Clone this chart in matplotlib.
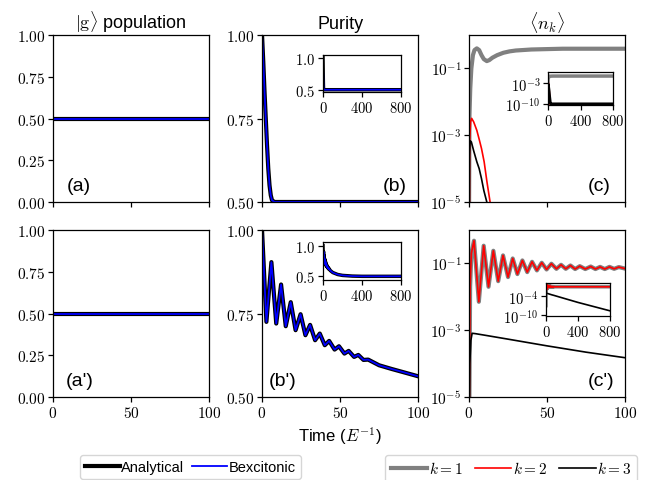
import numpy as np
import matplotlib
matplotlib.use("Agg")
import matplotlib.pyplot as plt
from matplotlib.ticker import FuncFormatter, NullLocator

plt.rcParams['font.family'] = ['Liberation Sans', 'DejaVu Sans']
plt.rcParams['mathtext.fontset'] = 'cm'

# ---- data ----
# |g> population (both rows)
t_pop = [0, 25, 50, 75, 100]
pop_g = [0.5, 0.5, 0.5, 0.5, 0.5]

# purity, top row
t_pur = [0, 0.8, 1.6, 2.4, 3.2, 4.0, 4.8, 5.6, 6.4, 8, 10, 100]
pur = [1.0, 0.92, 0.83, 0.75, 0.67, 0.60, 0.55, 0.52, 0.505, 0.5, 0.5, 0.5]
t_pur_tail = [200, 400, 600, 800]
pur_tail = [0.5, 0.5, 0.5, 0.5]

# purity, bottom row (peaks and troughs)
t_pur2 = [0, 2.8, 6.0, 9.1, 12.2, 15.2, 18.4, 21.5, 24.7, 27.8, 30.8, 34.0, 37.0,
          40.2, 43.0, 46.5, 49.3, 52.8, 55.5, 59.0, 61.7, 65.0, 68.0, 75, 83, 90, 100]
pur2 = [1.0, 0.725, 0.904, 0.72, 0.837, 0.712, 0.784, 0.70, 0.748, 0.685, 0.716, 0.67, 0.69,
        0.655, 0.668, 0.642, 0.652, 0.63, 0.638, 0.62, 0.626, 0.611, 0.612, 0.595, 0.584, 0.575, 0.562]
t_pur2_tail = [150, 200, 300, 400, 600, 800]
pur2_tail = [0.53, 0.515, 0.504, 0.5, 0.5, 0.5]

# <n_k>, top row
t_n1 = [0, 0.3, 0.8, 1.5, 2.5, 3.5, 5, 6.5, 8, 9.5, 11.4, 13, 15, 18, 22, 26, 30, 40, 50, 60, 80, 100]
n1 = [3e-6, 4e-3, 2.5e-2, 0.1, 0.25, 0.355, 0.40, 0.355, 0.25, 0.19, 0.166, 0.178, 0.21,
      0.25, 0.295, 0.325, 0.345, 0.37, 0.38, 0.39, 0.39, 0.39]
t_n2 = [0, 0.4, 1.0, 1.7, 3, 5, 6.5, 8, 9.7, 11.5, 13.5, 15, 20, 25, 35]
n2 = [1e-8, 6.3e-4, 2.5e-3, 3.2e-3, 2.5e-3, 1.4e-3, 7.6e-4, 4e-4, 1.6e-4, 4e-5, 1e-5, 3.2e-6,
      3e-8, 1e-10, 1e-14]
t_n3 = [0, 0.3, 0.7, 1.5, 3, 5, 6.5, 8, 9.5, 11.4, 15, 20, 30, 40]
n3 = [1e-8, 2.5e-4, 6.8e-4, 6.3e-4, 3.4e-4, 1.6e-4, 1e-4, 5e-5, 2.2e-5, 1e-5, 1e-6, 3e-8, 1e-10, 8e-11]
t_tail = [200, 400, 600, 800]
n1_tail = [0.39, 0.39, 0.39, 0.39]
n3_tail = [8e-11, 8e-11, 8e-11, 8e-11]

# <n_k>, bottom row (k=1 and k=2 coincide)
t_n12b = [0, 0.7, 1.5, 3.2, 6.3, 9.4, 12.5, 15.6, 18.7, 21.8, 25, 28, 31, 34.2, 37.3,
          40.4, 43.5, 46.6, 49.7, 52.8, 56, 59, 62, 65, 68, 71, 74.5, 78, 81, 84, 87,
          90, 93, 96, 100]
n12b = [1e-7, 0.02, 0.2, 0.48, 0.0071, 0.34, 0.02, 0.24, 0.0295, 0.174, 0.039, 0.141, 0.048,
        0.123, 0.055, 0.112, 0.062, 0.105, 0.066, 0.098, 0.069, 0.091, 0.069, 0.087, 0.068,
        0.083, 0.068, 0.081, 0.068, 0.079, 0.068, 0.079, 0.069, 0.078, 0.07]
t_n3b = [0, 0.5, 1.2, 2, 4, 10, 25, 50, 75, 100]
n3b = [1e-7, 1e-4, 5e-4, 8.1e-4, 7.9e-4, 7.1e-4, 5.4e-4, 3.4e-4, 2.2e-4, 1.5e-4]
n12b_tail = [0.07, 0.07, 0.07, 0.07]
n3b_tail = [2.8e-5, 1e-6, 5e-8, 2.5e-9]

# ---- figure ----
fig = plt.figure(figsize=(6.47, 4.81), dpi=100)

cols = [0.0819, 0.405, 0.7249]
rows = [0.578, 0.1726]
w, h = 0.2412, 0.347

lin_fmt2 = FuncFormatter(lambda v, p: r'$%.2f$' % v)
lin_fmt1 = FuncFormatter(lambda v, p: r'$%.1f$' % v)
int_fmt = FuncFormatter(lambda v, p: r'$%d$' % v)
log_fmt = FuncFormatter(lambda v, p: r'$10^{%d}$' % round(np.log10(v)))


def style(ax, fs=11):
    ax.tick_params(direction='out', length=3.5, width=0.9, labelsize=fs, pad=2)
    for s in ax.spines.values():
        s.set_linewidth(0.9)


axes = [[fig.add_axes([cols[c], rows[r], w, h]) for c in range(3)] for r in range(2)]

for r in range(2):
    ax_a, ax_b, ax_c = axes[r]
    # population
    ax_a.plot(t_pop, pop_g, color='black', lw=3)
    ax_a.plot(t_pop, pop_g, color='blue', lw=1.3)
    ax_a.set_ylim(0, 1)
    ax_a.set_yticks([0, 0.25, 0.5, 0.75, 1.0])
    ax_a.yaxis.set_major_formatter(lin_fmt2)

    # purity
    tp, pp = (t_pur, pur) if r == 0 else (t_pur2, pur2)
    ax_b.plot(tp, pp, color='black', lw=3)
    ax_b.plot(tp, pp, color='blue', lw=1.3)
    ax_b.set_ylim(0.5, 1)
    ax_b.set_yticks([0.5, 0.75, 1.0])
    ax_b.yaxis.set_major_formatter(lin_fmt2)

    ax_c.set_yscale('log')
    ax_c.set_ylim(1e-5, 1)
    ax_c.set_yticks([1e-5, 1e-3, 1e-1])
    ax_c.yaxis.set_minor_locator(NullLocator())
    ax_c.yaxis.set_major_formatter(log_fmt)

    for ax in axes[r]:
        ax.set_xlim(0, 100)
        ax.set_xticks([0, 50, 100])
        ax.xaxis.set_major_formatter(int_fmt)
        style(ax)
        if r == 0:
            ax.tick_params(labelbottom=False)

# <n_k> top
ax = axes[0][2]
ax.plot(t_n1, n1, color='gray', lw=3)
ax.plot(t_n2, n2, color='red', lw=1.2)
ax.plot(t_n3, n3, color='black', lw=1.2)
# <n_k> bottom
ax = axes[1][2]
ax.plot(t_n12b, n12b, color='gray', lw=3)
ax.plot(t_n12b, n12b, color='red', lw=1.2)
ax.plot(t_n3b, n3b, color='black', lw=1.2)

# titles
axes[0][0].set_title(r'$|\mathrm{g}\rangle$ population', fontsize=13, pad=5)
axes[0][1].set_title('Purity', fontsize=13, pad=5)
axes[0][2].set_title(r'$\langle n_k\rangle$', fontsize=13, pad=5)
axes[1][1].set_xlabel(r'Time ($E^{-1}$)', fontsize=12, labelpad=3)

# panel labels
lab_kw = dict(fontsize=14)
axes[0][0].text(0.09, 0.05, '(a)', transform=axes[0][0].transAxes, ha='left', va='bottom', **lab_kw)
axes[0][1].text(0.93, 0.05, '(b)', transform=axes[0][1].transAxes, ha='right', va='bottom', **lab_kw)
axes[0][2].text(0.91, 0.05, '(c)', transform=axes[0][2].transAxes, ha='right', va='bottom', **lab_kw)
axes[1][0].text(0.08, 0.05, "(a')", transform=axes[1][0].transAxes, ha='left', va='bottom', **lab_kw)
axes[1][1].text(0.04, 0.05, "(b')", transform=axes[1][1].transAxes, ha='left', va='bottom', **lab_kw)
axes[1][2].text(0.93, 0.05, "(c')", transform=axes[1][2].transAxes, ha='right', va='bottom', **lab_kw)

# insets
ins_b = fig.add_axes([0.4992, 0.8067, 0.1206, 0.0769])
ins_b.plot(t_pur + t_pur_tail, pur + pur_tail, color='black', lw=2.5)
ins_b.plot(t_pur + t_pur_tail, pur + pur_tail, color='blue', lw=1.2)
ins_b.set_ylim(0.465, 1.04)
ins_b.set_yticks([0.5, 1.0])
ins_b.yaxis.set_major_formatter(lin_fmt1)

ins_b2 = fig.add_axes([0.4992, 0.4158, 0.1206, 0.079])
ins_b2.plot(t_pur2 + t_pur2_tail, pur2 + pur2_tail, color='black', lw=2.5)
ins_b2.plot(t_pur2 + t_pur2_tail, pur2 + pur2_tail, color='blue', lw=1.2)
ins_b2.set_ylim(0.44, 1.06)
ins_b2.set_yticks([0.5, 1.0])
ins_b2.yaxis.set_major_formatter(lin_fmt1)

ins_c = fig.add_axes([0.847, 0.7796, 0.1005, 0.0686])
ins_c.plot(t_n1 + t_tail, n1 + n1_tail, color='gray', lw=2.5)
ins_c.plot(t_n2, n2, color='red', lw=1.2)
ins_c.plot(t_n3 + t_tail, n3 + n3_tail, color='black', lw=2)
ins_c.set_yscale('log')
ins_c.set_ylim(10 ** -10.5, 10 ** 1.0)
ins_c.set_yticks([1e-10, 1e-3])

ins_c2 = fig.add_axes([0.8439, 0.341, 0.0989, 0.0686])
ins_c2.plot(t_n12b + t_tail, n12b + n12b_tail, color='gray', lw=2.5)
ins_c2.plot(t_n12b + t_tail, n12b + n12b_tail, color='red', lw=1.2)
ins_c2.plot(t_n3b + t_tail, n3b + n3b_tail, color='black', lw=1.2)
ins_c2.set_yscale('log')
ins_c2.set_ylim(10 ** -10.2, 10 ** 0.03)
ins_c2.set_yticks([1e-10, 1e-4])

for ins in [ins_b, ins_b2, ins_c, ins_c2]:
    ins.set_xlim(0, 800)
    ins.set_xticks([0, 400, 800])
    ins.xaxis.set_major_formatter(int_fmt)
    style(ins, fs=10.5)
for ins in [ins_c, ins_c2]:
    ins.yaxis.set_minor_locator(NullLocator())
    ins.yaxis.set_major_formatter(log_fmt)

# legends
h1, = axes[1][0].plot([], [], color='black', lw=3, label='Analytical')
h2, = axes[1][0].plot([], [], color='blue', lw=1.3, label='Bexcitonic')
fig.legend(handles=[h1, h2], loc='upper center', bbox_to_anchor=(0.294, 0.068), ncol=2,
           fontsize=10.5, handlelength=2.4, handletextpad=0.1, columnspacing=0.5,
           borderpad=0.35)
k1, = axes[1][2].plot([], [], color='gray', lw=3, label=r'$k=1$')
k2, = axes[1][2].plot([], [], color='red', lw=1.2, label=r'$k=2$')
k3, = axes[1][2].plot([], [], color='black', lw=1.2, label=r'$k=3$')
fig.legend(handles=[k1, k2, k3], loc='upper center', bbox_to_anchor=(0.79, 0.068), ncol=3,
           fontsize=11, handlelength=2.4, handletextpad=0.1, columnspacing=0.8,
           borderpad=0.35)

fig.savefig('out.png', dpi=100)
